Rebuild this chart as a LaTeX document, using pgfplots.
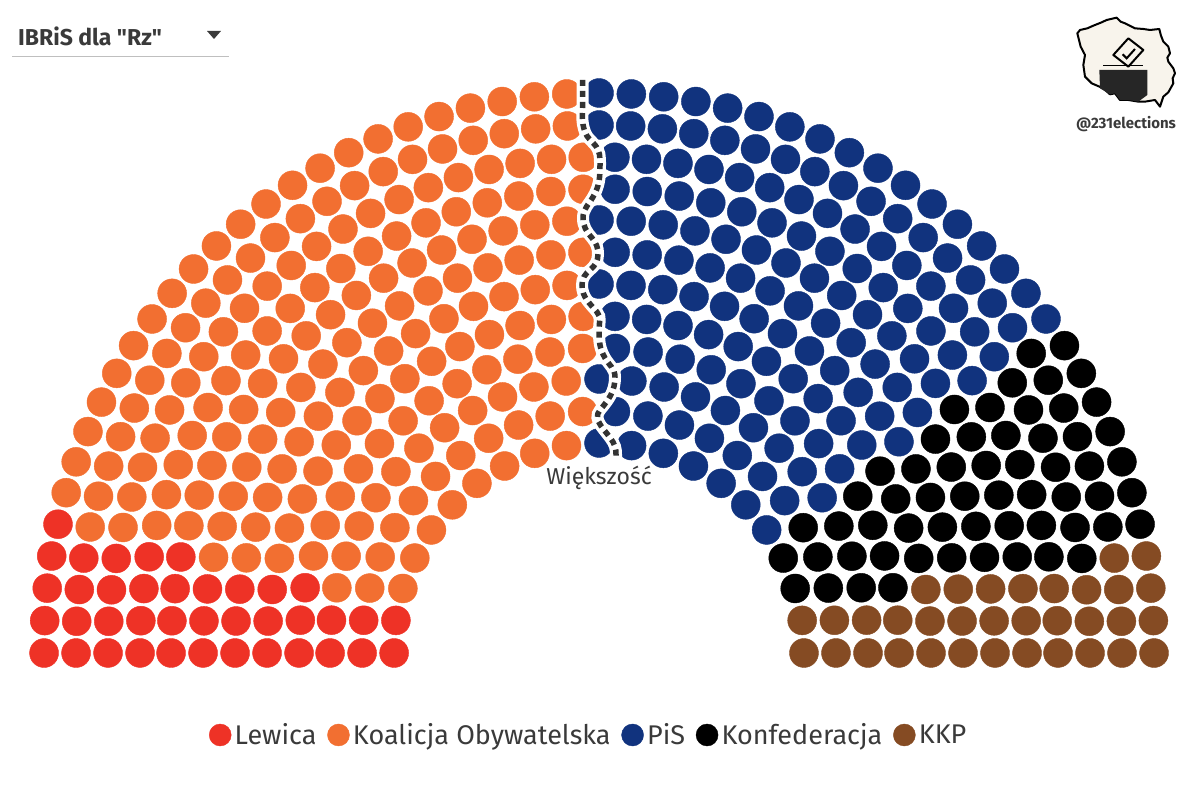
\documentclass[border=0pt]{standalone}
\usepackage{pgfplots}
\pgfplotsset{compat=1.18}
\usepackage{fontspec}
\setmainfont{Fira Sans}
\newfontfamily\plainf{Fira Sans}
\definecolor{cLew}{HTML}{EE3226}
\definecolor{cKO}{HTML}{F26F31}
\definecolor{cPiS}{HTML}{11337E}
\definecolor{cKon}{HTML}{000000}
\definecolor{cKKP}{HTML}{854B23}
\definecolor{cTxt}{HTML}{3A3A3A}
\definecolor{cMap}{HTML}{F8F4EC}
\begin{document}
\begin{tikzpicture}
\path[use as bounding box] (0,0) rectangle (1200pt,789pt);
\begin{axis}[
  at={(0,0)},anchor=south west,
  scale only axis,width=1200pt,height=789pt,
  xmin=-599,xmax=601,ymin=-141,ymax=648,
  hide axis,clip=false,
  legend columns=-1,
  legend style={at={(axis cs:-9.5,-87)},anchor=center,draw=none,fill=none,
    font=\fontsize{27}{30}\selectfont\color{cTxt},inner sep=0pt,
    nodes={inner xsep=3.5pt,inner ysep=0pt},
    /tikz/every even column/.append style={column sep=7.5pt}},
  legend image code/.code={\draw[#1,mark size=11pt] plot coordinates {(0pt,0pt)};},
]
\addplot[only marks,data cs=polar,mark=*,mark size=14.5pt,mark options={draw=none,fill=cLew},color=cLew] coordinates {
(181.40,205)(172.26,205)
(181.21,237)(173.28,237)
(181.07,269)(174.06,269)
(180.95,300)(174.68,300)(168.41,300)
(180.86,332)(175.35,332)(169.85,332)
(180.79,364)(175.75,364)(170.70,364)
(180.72,396)(176.07,396)(171.42,396)
(180.67,428)(176.35,428)(172.03,428)(167.72,428)
(180.62,459)(176.59,459)(172.56,459)(168.54,459)
(180.58,491)(176.88,491)(173.19,491)(169.49,491)
(180.55,523)(177.07,523)(173.58,523)(170.10,523)
(180.52,555)(177.17,555)(173.81,555)(170.46,555)(167.11,555)
};
\addlegendentry{Lewica}
\addplot[only marks,data cs=polar,mark=*,mark size=14.5pt,mark options={draw=none,fill=cKO},color=cKO] coordinates {
(163.12,205)(153.98,205)(144.84,205)(135.70,205)(126.56,205)(117.42,205)(108.28,205)(99.14,205)
(165.35,237)(157.42,237)(149.49,237)(141.55,237)(133.62,237)(125.69,237)(117.76,237)(109.83,237)(101.90,237)(93.97,237)
(167.06,269)(160.05,269)(153.05,269)(146.04,269)(139.04,269)(132.03,269)(125.03,269)(118.02,269)(111.02,269)(104.01,269)(97.01,269)
(162.13,300)(155.86,300)(149.59,300)(143.32,300)(137.05,300)(130.77,300)(124.50,300)(118.23,300)(111.96,300)(105.69,300)(99.41,300)(93.14,300)
(164.34,332)(158.83,332)(153.32,332)(147.82,332)(142.31,332)(136.80,332)(131.30,332)(125.79,332)(120.28,332)(114.78,332)(109.27,332)(103.76,332)(98.25,332)(92.75,332)
(165.66,364)(160.61,364)(155.57,364)(150.53,364)(145.48,364)(140.44,364)(135.39,364)(130.35,364)(125.31,364)(120.26,364)(115.22,364)(110.17,364)(105.13,364)(100.09,364)(95.04,364)
(166.76,396)(162.11,396)(157.46,396)(152.81,396)(148.16,396)(143.50,396)(138.85,396)(134.20,396)(129.55,396)(124.90,396)(120.24,396)(115.59,396)(110.94,396)(106.29,396)(101.64,396)(96.98,396)(92.33,396)
(163.40,428)(159.08,428)(154.76,428)(150.44,428)(146.13,428)(141.81,428)(137.49,428)(133.17,428)(128.85,428)(124.54,428)(120.22,428)(115.90,428)(111.58,428)(107.26,428)(102.95,428)(98.63,428)(94.31,428)
(164.51,459)(160.48,459)(156.45,459)(152.42,459)(148.40,459)(144.37,459)(140.34,459)(136.31,459)(132.28,459)(128.26,459)(124.23,459)(120.20,459)(116.17,459)(112.14,459)(108.12,459)(104.09,459)(100.06,459)(96.03,459)(92.00,459)
(165.79,491)(162.09,491)(158.40,491)(154.70,491)(151.00,491)(147.31,491)(143.61,491)(139.91,491)(136.22,491)(132.52,491)(128.82,491)(125.12,491)(121.43,491)(117.73,491)(114.03,491)(110.34,491)(106.64,491)(102.94,491)(99.25,491)(95.55,491)(91.85,491)
(166.62,523)(163.13,523)(159.65,523)(156.17,523)(152.69,523)(149.20,523)(145.72,523)(142.24,523)(138.75,523)(135.27,523)(131.79,523)(128.30,523)(124.82,523)(121.34,523)(117.86,523)(114.37,523)(110.89,523)(107.41,523)(103.92,523)(100.44,523)(96.96,523)(93.47,523)
(163.75,555)(160.40,555)(157.05,555)(153.70,555)(150.34,555)(146.99,555)(143.64,555)(140.28,555)(136.93,555)(133.58,555)(130.22,555)(126.87,555)(123.52,555)(120.17,555)(116.81,555)(113.46,555)(110.11,555)(106.75,555)(103.40,555)(100.05,555)(96.69,555)(93.34,555)
};
\addlegendentry{Koalicja Obywatelska}
\addplot[only marks,data cs=polar,mark=*,mark size=14.5pt,mark options={draw=none,fill=cPiS},color=cPiS] coordinates {
(35.16,205)(44.30,205)(53.44,205)(62.58,205)(71.72,205)(80.86,205)(90.00,205)
(38.45,237)(46.38,237)(54.31,237)(62.24,237)(70.17,237)(78.10,237)(86.03,237)
(33.96,269)(40.96,269)(47.97,269)(54.97,269)(61.98,269)(68.98,269)(75.99,269)(82.99,269)(90.00,269)
(36.68,300)(42.95,300)(49.23,300)(55.50,300)(61.77,300)(68.04,300)(74.31,300)(80.59,300)(86.86,300)
(37.69,332)(43.20,332)(48.70,332)(54.21,332)(59.72,332)(65.22,332)(70.73,332)(76.24,332)(81.75,332)(87.25,332)
(34.52,364)(39.56,364)(44.61,364)(49.65,364)(54.69,364)(59.74,364)(64.78,364)(69.83,364)(74.87,364)(79.91,364)(84.96,364)(90.00,364)
(36.50,396)(41.15,396)(45.80,396)(50.45,396)(55.10,396)(59.76,396)(64.41,396)(69.06,396)(73.71,396)(78.36,396)(83.02,396)(87.67,396)
(38.19,428)(42.51,428)(46.83,428)(51.15,428)(55.46,428)(59.78,428)(64.10,428)(68.42,428)(72.74,428)(77.05,428)(81.37,428)(85.69,428)(90.00,428)
(35.63,459)(39.66,459)(43.69,459)(47.72,459)(51.74,459)(55.77,459)(59.80,459)(63.83,459)(67.86,459)(71.88,459)(75.91,459)(79.94,459)(83.97,459)(88.00,459)
(36.39,491)(40.09,491)(43.78,491)(47.48,491)(51.18,491)(54.88,491)(58.57,491)(62.27,491)(65.97,491)(69.66,491)(73.36,491)(77.06,491)(80.75,491)(84.45,491)(88.15,491)
(37.76,523)(41.25,523)(44.73,523)(48.21,523)(51.70,523)(55.18,523)(58.66,523)(62.14,523)(65.63,523)(69.11,523)(72.59,523)(76.08,523)(79.56,523)(83.04,523)(86.53,523)(90.00,523)
(36.36,555)(39.72,555)(43.07,555)(46.42,555)(49.78,555)(53.13,555)(56.48,555)(59.83,555)(63.19,555)(66.54,555)(69.89,555)(73.25,555)(76.60,555)(79.95,555)(83.31,555)(86.66,555)(90.00,555)
};
\addlegendentry{PiS}
\addplot[only marks,data cs=polar,mark=*,mark size=14.5pt,mark options={draw=none,fill=cKon},color=cKon] coordinates {
(16.88,205)(26.02,205)
(14.65,237)(22.58,237)(30.51,237)
(12.94,269)(19.95,269)(26.95,269)
(11.59,300)(17.87,300)(24.14,300)(30.41,300)
(15.66,332)(21.17,332)(26.68,332)(32.18,332)
(14.34,364)(19.39,364)(24.43,364)(29.47,364)
(13.24,396)(17.89,396)(22.54,396)(27.19,396)(31.84,396)
(12.28,428)(16.60,428)(20.92,428)(25.24,428)(29.56,428)(33.87,428)
(11.46,459)(15.49,459)(19.52,459)(23.55,459)(27.58,459)(31.60,459)
(10.51,491)(14.21,491)(17.91,491)(21.60,491)(25.30,491)(29.00,491)(32.69,491)
(13.38,523)(16.87,523)(20.35,523)(23.83,523)(27.31,523)(30.80,523)(34.28,523)
(12.89,555)(16.25,555)(19.60,555)(22.95,555)(26.30,555)(29.66,555)(33.01,555)
};
\addlegendentry{Konfederacja}
\addplot[only marks,data cs=polar,mark=*,mark size=14.5pt,mark options={draw=none,fill=cKKP},color=cKKP] coordinates {
(-1.40,205)(7.74,205)
(-1.21,237)(6.72,237)
(-1.07,269)(5.94,269)
(-0.95,300)(5.32,300)
(-0.86,332)(4.65,332)(10.15,332)
(-0.79,364)(4.25,364)(9.30,364)
(-0.72,396)(3.93,396)(8.58,396)
(-0.67,428)(3.65,428)(7.97,428)
(-0.62,459)(3.41,459)(7.44,459)
(-0.58,491)(3.12,491)(6.81,491)
(-0.55,523)(2.93,523)(6.42,523)(9.90,523)
(-0.52,555)(2.83,555)(6.19,555)(9.54,555)
};
\addlegendentry{KKP}
\end{axis}
\begin{scope}[x=1pt,y=-1pt,yshift=789pt]
 % majority line
 \def\maj{(582.7,80) -- (582.7,102) to[out=-90,in=110] (585,132) to[out=-70,in=130] (595,145) to[out=-50,in=90] (600,165) to[out=-90,in=60] (593,197) to[out=-120,in=90] (583,218) to[out=-90,in=130] (592,238) to[out=-50,in=90] (598,254) to[out=-90,in=40] (590,270) to[out=-140,in=90] (582,285) to[out=-90,in=130] (597,312) to[out=-50,in=90] (599,330) to[out=-90,in=120] (605,358) to[out=-60,in=90] (615,377) to[out=-90,in=50] (600,410) to[out=-130,in=120] (613,442) to[out=-60,in=90] (616,460)}
 \draw[white,line width=12pt] \maj;
 \draw[color=black!80,line width=5.5pt,dash pattern=on 6pt off 5pt] \maj;
 \node[font=\fontsize{23}{26}\selectfont,text=cTxt] at (599,478) {Większość};
 % dropdown
 \node[anchor=west,font=\plainf\fontsize{23}{26}\selectfont\bfseries,text=cTxt,inner sep=0] at (18,36) {IBRiS dla "Rz"};
 \fill[cTxt] (207,31) -- (221,31) -- (214,39) -- cycle;
 \draw[black!25,line width=1pt] (12,56.5) -- (229,56.5);
 % logo
 \begin{scope}[shift={(1060,5)},x=0.3333pt,y=-0.3333pt]
  \draw[fill=cMap,line width=2pt,line join=round]
   (52,85)--(60,75)--(82,70)--(100,62)--(125,52)--(140,45)--(170,38)--(182,50)--(195,55)--(225,70)--(250,72)--(270,75)--(298,72)--(303,92)--(310,110)--(325,125)--(330,145)--(322,158)--(325,170)--(340,190)--(345,205)--(338,220)--(340,235)--(325,262)--(310,275)--(300,305)--(285,285)--(255,290)--(235,290)--(205,285)--(180,285)--(165,265)--(150,268)--(130,250)--(95,235)--(75,215)--(70,180)--(75,150)--(62,125)--cycle;
  \draw[fill=cMap,line width=2pt,line join=round] (205,100)--(250,135)--(205,185)--(160,150)--cycle;
  \draw[line width=2pt] (188,148)--(200,160)--(225,132);
  \fill[black!85] (118,195)--(262,195)--(262,270)--(235,290)--(205,285)--(180,285)--(165,265)--(150,268)--(120,250)--cycle;
  \draw[line width=1.5pt] (130,182)--(250,182);
 \end{scope}
 \node[font=\fontsize{15}{17}\selectfont\bfseries,text=cTxt] at (1126,124) {@231elections};
\end{scope}
\end{tikzpicture}
\end{document}
